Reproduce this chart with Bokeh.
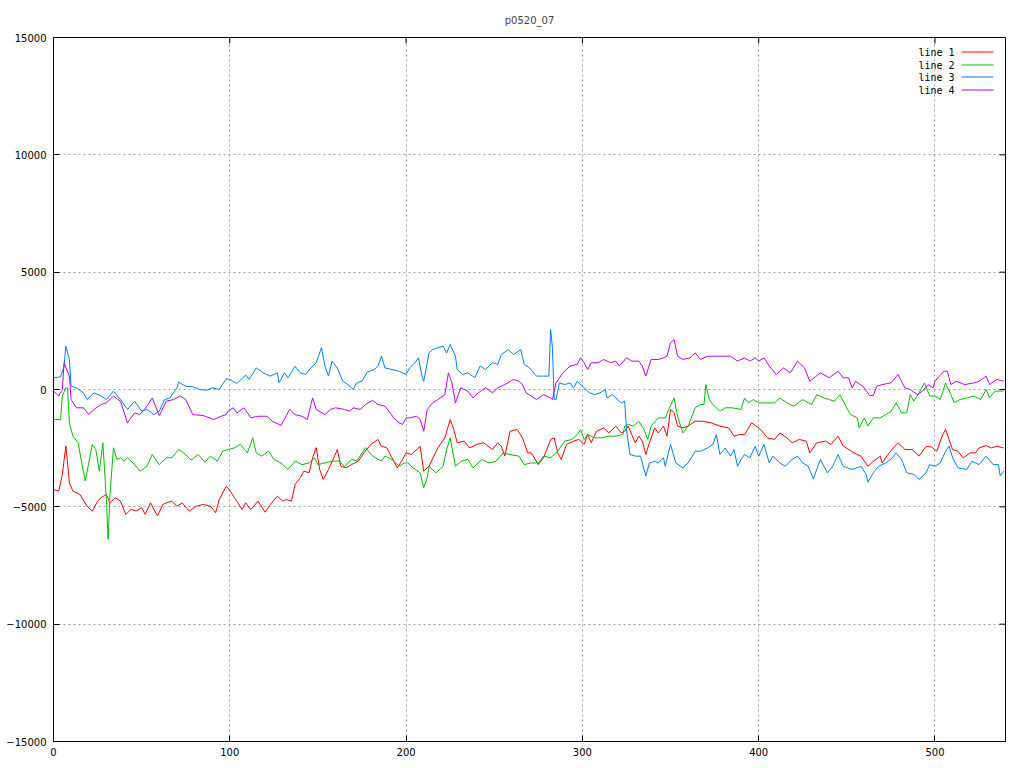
from bokeh.plotting import figure
from bokeh.models import Range1d, FixedTicker, BasicTickFormatter
from bokeh.core.properties import value
from bokeh.embed import file_html
from bokeh.resources import INLINE

TITLE = "p0520_07"
SERIES_NAMES = ["line 1", "line 2", "line 3", "line 4"]
SERIES_COLORS = ["#ff0000", "#00c000", "#0080ff", "#c000ff"]
X_TICKS = [0, 100, 200, 300, 400, 500]
Y_TICKS = [-15000, -10000, -5000, 0, 5000, 10000, 15000]

line1_x = [0, 3, 5, 7, 8, 9, 11, 15, 19, 22, 25, 27, 30, 32, 35, 38, 41, 44, 47, 50, 52, 55, 59, 62, 64, 67, 70, 73, 77, 81,
           85, 89, 92, 94, 98, 100, 102, 104, 107, 109, 111, 112, 116, 120, 123, 127, 130, 132, 135, 137, 140, 142, 145, 147,
           149, 151, 153, 156, 159, 161, 163, 166, 169, 173, 176, 180, 184, 186, 189, 192, 195, 198, 200, 203, 208, 210, 213,
           218, 222, 225, 227, 229, 233, 236, 240, 244, 249, 252, 254, 256, 259, 263, 266, 269, 271, 275, 278, 282, 284, 286,
           288, 291, 295, 298, 301, 303, 305, 308, 312, 315, 319, 322, 324, 326, 328, 330, 332, 334, 336, 338, 341, 343, 346,
           348, 350, 352, 354, 357, 360, 364, 368, 373, 378, 383, 386, 389, 392, 396, 401, 405, 409, 412, 416, 419, 423, 427,
           429, 433, 438, 441, 445, 448, 454, 458, 462, 465, 469, 470, 474, 479, 483, 487, 491, 495, 498, 501, 504, 506, 508,
           510, 513, 516, 520, 523, 525, 529, 532, 535, 539]
line1_y = [-4260, -4330, -3620, -2410, -3130, -3980, -4330, -4470, -4970, -5180, -4760, -4610, -4470, -4830, -4610, -4760,
           -5320, -5110, -5180, -5040, -5320, -4830, -5390, -4900, -4830, -4760, -4970, -4830, -5180, -4970, -4900, -4970,
           -5250, -4690, -4120, -4300, -4540, -4760, -5110, -4830, -5040, -5110, -4760, -5230, -4900, -4540, -4760, -4690,
           -4760, -4050, -3760, -3480, -3550, -2910, -2480, -3410, -3830, -3410, -2910, -2560, -3270, -3340, -3200, -3050,
           -2700, -2340, -2130, -2410, -2480, -2910, -3340, -2980, -2700, -2770, -2420, -3480, -3270, -2490, -2060, -1280,
           -1700, -2270, -2200, -2490, -2340, -2270, -2560, -2270, -2420, -2840, -1780, -1700, -2060, -2700, -2700, -3200,
           -2910, -2130, -2060, -2700, -2980, -2340, -2200, -2130, -2340, -1920, -2270, -1780, -1640, -1850, -1560, -1850,
           -1780, -1560, -1920, -2270, -1990, -2200, -2770, -2270, -1640, -1850, -1560, -1990, -850, -990, -1560, -1640,
           -1560, -1350, -1350, -1420, -1560, -1640, -1990, -1920, -1920, -1420, -1700, -2060, -2130, -1850, -2060, -2270,
           -2130, -2200, -2700, -2270, -2200, -2340, -1990, -2410, -2700, -2840, -3270, -3060, -2840, -3130, -2700, -2270,
           -2560, -2560, -2840, -2420, -2450, -2630, -1990, -1700, -2130, -2560, -2630, -2910, -2700, -2700, -2490, -2390,
           -2490, -2420, -2490]

line2_x = [0, 4, 5, 7, 8, 9, 11, 14, 16, 18, 20, 22, 24, 26, 28, 30, 31, 32, 34, 36, 38, 40, 42, 46, 49, 53, 56, 60, 64, 67,
           71, 75, 78, 82, 86, 89, 93, 96, 99, 103, 106, 110, 113, 115, 118, 122, 125, 129, 133, 137, 141, 145, 148, 150, 154,
           158, 162, 165, 169, 172, 177, 181, 186, 188, 192, 196, 199, 201, 204, 208, 210, 212, 213, 217, 221, 223, 225, 228,
           231, 235, 238, 243, 247, 251, 255, 259, 264, 267, 271, 275, 278, 282, 286, 290, 294, 297, 299, 301, 303, 307, 311,
           315, 319, 323, 324, 326, 329, 332, 335, 337, 339, 343, 347, 349, 352, 354, 357, 360, 364, 367, 369, 370, 372, 374,
           378, 381, 385, 390, 392, 394, 397, 400, 405, 409, 412, 416, 420, 425, 430, 433, 437, 440, 443, 446, 449, 452, 456,
           457, 460, 462, 465, 469, 472, 475, 478, 481, 484, 486, 488, 491, 494, 497, 500, 503, 506, 509, 511, 514, 518, 522,
           526, 529, 531, 534, 539]
line2_y = [-1280, -1280, -280, 70, 70, -1420, -1990, -2270, -3130, -3900, -3130, -2340, -2560, -3480, -2270, -4690, -6390,
           -4540, -2480, -2980, -2910, -3050, -2910, -3200, -3480, -3270, -2770, -3200, -2910, -2910, -2560, -2770, -3010,
           -2770, -3100, -2840, -3050, -2630, -2560, -2480, -2340, -2700, -2060, -2700, -2840, -2630, -2980, -3130, -3410,
           -3050, -3200, -3130, -2910, -3200, -3130, -3050, -3050, -3270, -2980, -3050, -2480, -2840, -3050, -2840, -2980,
           -3270, -3130, -3130, -3340, -3550, -4190, -3760, -3270, -3550, -3270, -2560, -2060, -3270, -3060, -2980, -3340,
           -2980, -3130, -3060, -2700, -2770, -2840, -3200, -3130, -3130, -2840, -2910, -2630, -2200, -2130, -1920, -1710,
           -2130, -1920, -2060, -2060, -1990, -1990, -1920, -1560, -1490, -1560, -1350, -1710, -2130, -1560, -1210, -1210,
           -850, -360, -1140, -1850, -1560, -780, -640, -640, 210, -430, -640, -930, -780, -780, -850, -360, -570, -430,
           -570, -570, -570, -360, -570, -710, -430, -640, -220, -360, -430, -500, -220, -640, -1070, -1210, -1630, -1210,
           -1560, -1210, -1210, -1070, -930, -570, -990, -990, -220, -500, -140, 280, -280, -280, -430, 280, -220, -570,
           -430, -360, -280, -430, 0, -360, -70, -70]

line3_x = [0, 4, 6, 7, 9, 10, 13, 17, 19, 23, 27, 30, 34, 38, 42, 46, 50, 53, 57, 60, 63, 66, 70, 71, 75, 79, 83, 87, 90, 94,
           98, 100, 104, 109, 111, 115, 119, 123, 127, 128, 131, 133, 137, 140, 143, 146, 149, 152, 154, 156, 158, 161, 164,
           167, 170, 172, 175, 178, 182, 184, 186, 188, 192, 196, 200, 202, 205, 207, 209, 210, 213, 215, 218, 221, 223, 225,
           228, 229, 232, 235, 239, 242, 245, 249, 252, 254, 258, 261, 265, 267, 270, 274, 278, 281, 282, 283, 284, 285, 287,
           290, 293, 295, 297, 301, 304, 307, 310, 313, 314, 317, 320, 322, 324, 325, 327, 330, 333, 335, 336, 338, 341, 343,
           346, 347, 350, 353, 357, 360, 364, 367, 371, 374, 376, 378, 381, 384, 386, 388, 390, 392, 395, 398, 400, 403, 406,
           408, 412, 415, 419, 422, 425, 428, 431, 435, 439, 442, 445, 448, 453, 458, 461, 462, 465, 468, 472, 475, 478, 481,
           484, 488, 491, 495, 497, 500, 503, 506, 508, 510, 513, 518, 521, 525, 529, 533, 536, 537, 539]
line3_y = [497, 540, 970, 1850, 1280, 142, 70, -140, -430, -140, -280, -430, -70, -430, -850, -500, -920, -850, -1070, -920,
           -430, -360, 70, 310, 140, 115, 0, -30, 70, 0, 455, 430, 256, 610, 430, 920, 710, 570, 710, 290, 710, 500, 990,
           710, 640, 920, 1140, 1780, 990, 570, 1210, 920, 360, 210, 0, 280, 360, 740, 850, 990, 1420, 920, 850, 780, 640,
           920, 1140, 1350, 570, 350, 1560, 1700, 1780, 1850, 1560, 1920, 1420, 850, 640, 710, 500, 1000, 850, 1140, 1070,
           1490, 1700, 1490, 1700, 1070, 920, 570, 570, 570, 2560, 1780, -430, -430, 280, 210, 280, 70, 350, 70, -140, -220,
           -140, 0, -360, -220, -430, -570, -500, -1700, -2770, -2840, -2840, -3410, -3690, -3130, -3060, -3130, -2910,
           -3270, -2340, -3130, -3340, -3130, -2630, -2630, -2490, -2340, -1920, -2770, -2490, -2840, -2560, -3270, -2980,
           -2770, -2910, -2420, -2840, -2340, -3130, -2840, -3130, -3270, -2980, -2840, -3130, -3270, -3810, -2980, -3550,
           -3270, -2770, -3270, -3410, -3270, -3620, -3950, -3550, -3270, -3130, -2980, -2700, -2980, -3550, -3620, -3830,
           -3550, -3200, -3270, -3130, -2630, -2410, -2910, -3340, -3410, -3060, -3200, -2840, -3200, -3200, -3690, -3480]

line4_x = [0, 3, 5, 6, 9, 10, 13, 17, 20, 23, 27, 30, 34, 38, 42, 46, 49, 53, 56, 60, 64, 68, 72, 75, 79, 85, 91, 95, 98, 99,
           102, 104, 108, 112, 116, 121, 124, 129, 134, 137, 141, 144, 146, 147, 149, 154, 157, 160, 165, 168, 170, 174, 177,
           181, 184, 188, 191, 193, 196, 198, 200, 202, 206, 208, 210, 212, 215, 218, 222, 224, 226, 228, 231, 235, 238, 241,
           245, 249, 252, 256, 261, 264, 266, 268, 271, 274, 278, 282, 283, 285, 289, 293, 297, 299, 301, 303, 305, 309, 312,
           316, 319, 321, 325, 328, 332, 334, 336, 339, 343, 346, 348, 350, 352, 354, 357, 361, 364, 367, 371, 375, 379, 384,
           388, 392, 395, 398, 400, 403, 406, 410, 414, 418, 422, 426, 429, 435, 440, 445, 448, 451, 453, 455, 459, 463, 465,
           467, 470, 475, 479, 483, 486, 490, 493, 496, 499, 500, 505, 507, 509, 512, 517, 522, 525, 529, 531, 535, 539]
line4_y = [-70, -280, 0, 1140, 570, -430, -780, -780, -1070, -850, -640, -570, -280, -500, -1420, -1000, -1070, -710, -360,
           -1110, -500, -430, -280, -430, -1070, -1110, -1280, -1140, -1070, -920, -780, -1000, -780, -1210, -1140, -1140,
           -1350, -1530, -850, -1070, -1140, -1280, -640, -360, -850, -1070, -850, -780, -850, -920, -780, -850, -640, -460,
           -640, -710, -1000, -1210, -1420, -1490, -1210, -1210, -1140, -1280, -1780, -850, -570, -430, -220, 710, 280, -570,
           70, -70, -360, -140, 70, -140, 70, 210, 430, 350, 210, -140, -280, -430, -220, -360, -430, 280, 710, 1000, 1070,
           1350, 1140, 850, 1140, 1140, 1280, 1140, 1210, 1000, 1350, 1210, 1210, 1000, 570, 1280, 1280, 1350, 1420, 1990,
           2130, 1420, 1280, 1350, 1560, 1280, 1420, 1420, 1420, 1420, 1210, 1350, 1210, 1350, 1210, 1350, 1000, 640, 920,
           710, 1210, 920, 350, 710, 500, 780, 500, 500, 70, 350, 140, -260, -260, 140, 210, 280, 640, 70, 0, -220, -70, 210,
           70, 350, 780, 780, 210, 350, 210, 280, 350, 570, 210, 430, 350]

SERIES_X = [line1_x, line2_x, line3_x, line4_x]
SERIES_Y = [line1_y, line2_y, line3_y, line4_y]

# ---- layout ----
ML, MR, MT, MB = 53, 9, 37, 20
FW, FH = 952, 704
W = ML + FW + MR
H = MT + FH + MB
X0, X1 = 0, 540
Y0, Y1 = -15000, 15000
XPX = FW / (X1 - X0)   # pixels per x unit
YPX = FH / (Y1 - Y0)   # pixels per y unit
FONT = "DejaVu Sans"

p = figure(width=W, height=H, output_backend="svg", toolbar_location=None,
           x_range=Range1d(X0, X1), y_range=Range1d(Y0, Y1),
           min_border_left=ML, min_border_right=MR, min_border_top=MT, min_border_bottom=MB,
           title=TITLE)
p.background_fill_color = "white"
p.border_fill_color = "white"
p.outline_line_color = "black"
p.outline_line_width = 1
p.outline_line_alpha = 1

p.title.text_font = FONT
p.title.text_font_size = "10px"
p.title.text_font_style = "normal"
p.title.align = "center"
p.title.standoff = 24

for ax, ticks, standoff in ((p.xaxis[0], X_TICKS, 6), (p.yaxis[0], Y_TICKS, 7)):
    ax.ticker = FixedTicker(ticks=ticks)
    ax.formatter = BasicTickFormatter(use_scientific=False)
    ax.major_tick_in = 6
    ax.major_tick_out = 0
    ax.minor_tick_in = 0
    ax.minor_tick_out = 0
    ax.major_label_standoff = standoff
    ax.major_label_text_font = FONT
    ax.major_label_text_font_size = "10px"
    ax.major_label_text_color = "black"
    ax.axis_line_color = "black"
    ax.major_tick_line_color = "black"

for g in (p.xgrid[0], p.ygrid[0]):
    g.grid_line_color = "#a0a0a0"
    g.grid_line_dash = "2 3"
    g.grid_line_width = 1

# mirror ticks (inward) on top and right edges
tick_len_y = 6 / YPX
tick_len_x = 6 / XPX
p.segment(x0=X_TICKS, y0=[Y1] * len(X_TICKS), x1=X_TICKS, y1=[Y1 - tick_len_y] * len(X_TICKS),
          line_color="black", line_width=1)
p.segment(x0=[X1] * len(Y_TICKS), y0=Y_TICKS, x1=[X1 - tick_len_x] * len(Y_TICKS), y1=Y_TICKS,
          line_color="black", line_width=1)

# data lines
for xs, ys, c in zip(SERIES_X, SERIES_Y, SERIES_COLORS):
    p.line(xs, ys, line_color=c, line_width=1)

# gnuplot-style key: label, then sample line, top-right inside (rows snapped to pixel centres)
n = len(SERIES_NAMES)
row_off = [round(14 + i * 12.6) + 0.5 for i in range(n)]
lx_text = X1 - 51 / XPX
lx0 = X1 - 44 / XPX
lx1 = X1 - 12 / XPX
for name, c, r in zip(SERIES_NAMES, SERIES_COLORS, row_off):
    yy = Y1 - r / YPX
    p.text(x=[lx_text], y=[Y1 - (r + 0.5) / YPX], text=[name], text_align="right", text_baseline="middle",
           text_font=value("DejaVu Sans Mono"), text_font_size="10px", text_color="black")
    p.line(x=[lx0, lx1], y=[yy, yy], line_color=c, line_width=1)

open("out.html", "w").write(file_html(p, INLINE))
